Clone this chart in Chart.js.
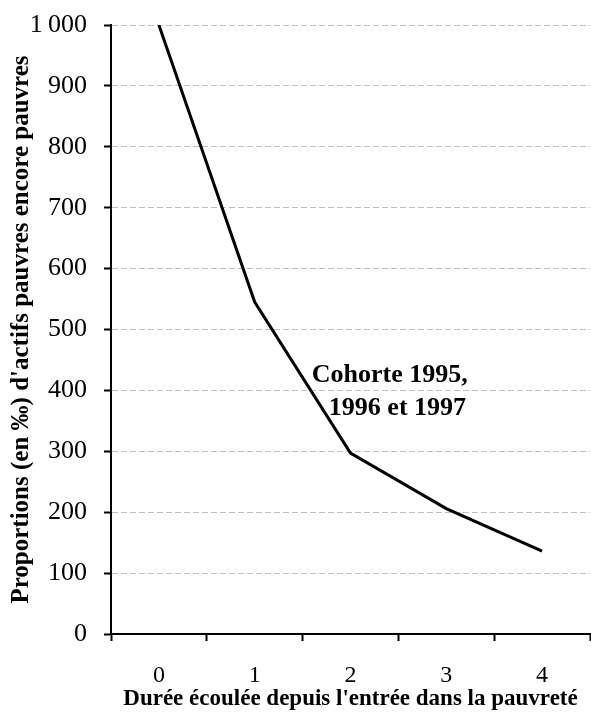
<!DOCTYPE html>
<html>
<head>
<meta charset="utf-8">
<script src="https://cdn.jsdelivr.net/npm/chart.js@4"></script>
<style>
  body { margin: 0; background: #fff; }
  #wrap { width: 591px; height: 715px; position: relative; }
</style>
</head>
<body>
<div id="wrap"><canvas id="curve"></canvas></div>
<script>
const years = ['0', '1', '2', '3', '4'];
const stillPoor = [1000, 545, 297, 206, 136];
const yTicks = [0, 100, 200, 300, 400, 500, 600, 700, 800, 900, 1000];
const noteLines = ['Cohorte 1995,', '1996 et 1997'];

const serif = "'Liberation Serif', 'Times New Roman', serif";

// text label placed beside the curve
const notePlugin = {
  id: 'note',
  afterDatasetsDraw(chart) {
    const { ctx, scales: { x, y } } = chart;
    ctx.save();
    ctx.font = 'bold 26px ' + serif;
    ctx.fillStyle = '#000';
    ctx.textAlign = 'center';
    ctx.textBaseline = 'middle';
    ctx.fillText(noteLines[0], x.getPixelForValue(2.41), y.getPixelForValue(425));
    ctx.fillText(noteLines[1], x.getPixelForValue(2.49), y.getPixelForValue(371));
    ctx.restore();
  }
};

new Chart(document.getElementById('curve'), {
  type: 'line',
  data: {
    labels: years,
    datasets: [{
      data: stillPoor,
      borderColor: '#000',
      borderWidth: 3,
      pointRadius: 0,
      tension: 0,
      fill: false
    }]
  },
  options: {
    responsive: true,
    maintainAspectRatio: false,
    animation: false,
    layout: { padding: { top: 25, right: 1, left: 0, bottom: 0 } },
    plugins: {
      legend: { display: false },
      tooltip: { enabled: false }
    },
    scales: {
      x: {
        offset: true,
        grid: {
          offset: true,
          drawOnChartArea: false,
          tickLength: 7,
          tickColor: '#000',
          tickWidth: 2
        },
        border: { color: '#000', width: 2 },
        ticks: {
          color: '#000',
          padding: 20,
          font: { family: serif, size: 24 }
        },
        title: {
          display: true,
          text: "Durée écoulée depuis l'entrée dans la pauvreté",
          color: '#000',
          padding: { top: 0, bottom: 2 },
          font: { family: serif, size: 23, weight: 'bold' }
        },
        afterFit(scale) { scale.height = 81; }
      },
      y: {
        min: 0,
        max: 1000,
        afterBuildTicks(scale) { scale.ticks = yTicks.map(v => ({ value: v })); },
        grid: {
          color: c => (c.tick && c.tick.value === 0) ? 'rgba(0,0,0,0)' : '#bfbfbf',
          lineWidth: 1,
          tickLength: 7,
          tickColor: '#000',
          tickWidth: 2,
          tickBorderDash: []
        },
        border: { color: '#000', width: 2, dash: [6, 3] },
        ticks: {
          color: '#000',
          padding: 17,
          font: { family: serif, size: 26 },
          callback: v => v >= 1000 ? '1\u2009000' : String(v)
        },
        title: {
          display: true,
          text: "Proportions (en ‰) d'actifs pauvres encore pauvres",
          color: '#000',
          padding: { top: 7, bottom: 0 },
          font: { family: serif, size: 25, weight: 'bold' }
        },
        afterFit(scale) {
          scale.width = 111;
          scale.paddingTop = 0;
          scale.paddingBottom = 0;
        }
      }
    }
  },
  plugins: [notePlugin]
});
</script>
</body>
</html>
